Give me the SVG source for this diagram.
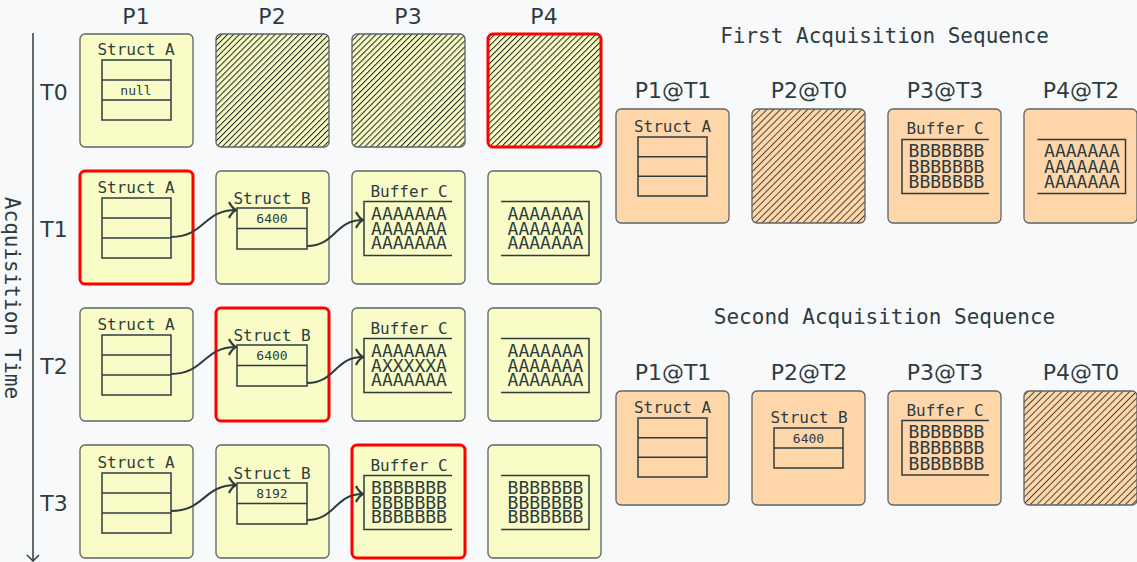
<svg xmlns="http://www.w3.org/2000/svg" width="1137" height="562" viewBox="0 0 1137 562">
<style>
.bg{fill:#f8f9fa}
.y{fill:#f9fcc6;stroke:#5b6466;stroke-width:1.3}
.o{fill:#ffd6aa;stroke:#5b6466;stroke-width:1.3}
.hy{fill:url(#hatchY);stroke:#5b6466;stroke-width:1.3}
.ho{fill:url(#hatchO);stroke:#5b6466;stroke-width:1.3}
.red{stroke:#ff0000;stroke-width:3}
.tb{fill:none;stroke:#2e3c40;stroke-width:1.5}
.hd{font-family:"DejaVu Sans",sans-serif;font-size:22px;fill:#2e3c40;text-anchor:middle}
.ttl{font-family:"DejaVu Sans Mono",monospace;font-size:21px;fill:#2e3c40;text-anchor:middle}
.nm{font-family:"DejaVu Sans Mono",monospace;font-size:16px;fill:#2e3c40;text-anchor:middle}
.sm{font-family:"DejaVu Sans Mono",monospace;font-size:13px;fill:#2e3c40;text-anchor:middle}
.bf{font-family:"DejaVu Sans Mono",monospace;font-size:18px;fill:#2e3c40;text-anchor:middle}
.cn{fill:none;stroke:#2e3c40;stroke-width:2}
</style>
<defs>
<pattern id="hatchY" patternUnits="userSpaceOnUse" width="4.2" height="4.2" patternTransform="rotate(45)">
<rect width="4.2" height="4.2" fill="#f9fcc6"/>
<line x1="0" y1="0" x2="0" y2="4.2" stroke="#1e261e" stroke-width="2"/>
</pattern>
<pattern id="hatchO" patternUnits="userSpaceOnUse" width="4.8" height="4.8" patternTransform="rotate(45)">
<rect width="4.8" height="4.8" fill="#ffd6aa"/>
<line x1="0" y1="0" x2="0" y2="4.8" stroke="#1e2620" stroke-width="1.6"/>
</pattern>
<marker id="arr" viewBox="0 0 9 18" refX="8" refY="9" markerWidth="9" markerHeight="18" markerUnits="userSpaceOnUse" orient="auto">
<path d="M1,1 Q4,7 8,9 Q4,11 1,17" fill="none" stroke="#2e3c40" stroke-width="2.2"/>
</marker>
</defs>
<rect class="bg" x="0" y="0" width="1137" height="562"/>

<g id="axis">
<line x1="33" y1="33" x2="33" y2="561" stroke="#2e3c40" stroke-width="1.5"/>
<path d="M27,555 L33,561 L39,555" fill="none" stroke="#2e3c40" stroke-width="1.5"/>
<text class="ttl" transform="translate(5,298) rotate(90)">Acquisition Time</text>
</g>

<g id="headers">
<text class="hd" x="136" y="24">P1</text>
<text class="hd" x="272" y="24">P2</text>
<text class="hd" x="408" y="24">P3</text>
<text class="hd" x="544" y="24">P4</text>
<text class="hd" x="54" y="100">T0</text>
<text class="hd" x="54" y="237">T1</text>
<text class="hd" x="54" y="374">T2</text>
<text class="hd" x="54" y="511">T3</text>
</g>

<!-- Row T0 -->
<g id="t0p1">
<rect class="y" x="80" y="34" width="113" height="113" rx="5"/>
<text class="nm" x="136" y="55">Struct A</text>
<rect class="tb" x="102" y="60" width="69" height="60"/>
<line class="tb" x1="102" y1="80" x2="171" y2="80"/>
<line class="tb" x1="102" y1="100" x2="171" y2="100"/>
<text class="sm" x="136" y="95">null</text>
</g>
<g id="t0p2"><rect class="hy" x="216" y="34" width="113" height="113" rx="5"/></g>
<g id="t0p3"><rect class="hy" x="352" y="34" width="113" height="113" rx="5"/></g>
<g id="t0p4"><rect class="hy red" x="488" y="34" width="113" height="113" rx="5"/></g>

<!-- Row T1 -->
<g id="t1p1">
<rect class="y red" x="80" y="171" width="113" height="113" rx="5"/>
<text class="nm" x="136" y="193">Struct A</text>
<rect class="tb" x="102" y="198" width="69" height="60"/>
<line class="tb" x1="102" y1="218" x2="171" y2="218"/>
<line class="tb" x1="102" y1="238" x2="171" y2="238"/>
</g>
<g id="t1p2">
<rect class="y" x="216" y="171" width="113" height="113" rx="5"/>
<text class="nm" x="272" y="204">Struct B</text>
<rect class="tb" x="237" y="208" width="70" height="41"/>
<line class="tb" x1="237" y1="228.5" x2="307" y2="228.5"/>
<text class="sm" x="272" y="223">6400</text>
</g>
<g id="t1p3">
<rect class="y" x="352" y="171" width="113" height="113" rx="5"/>
<text class="nm" x="409" y="196.5">Buffer C</text>
<path class="tb" d="M452,201.5 H364 V255.5 H452"/>
<text class="bf" x="409" y="220">AAAAAAA</text>
<text class="bf" x="409" y="234.6">AAAAAAA</text>
<text class="bf" x="409" y="249.2">AAAAAAA</text>
</g>
<g id="t1p4">
<rect class="y" x="488" y="171" width="113" height="113" rx="5"/>
<path class="tb" d="M501,201.5 H589 V255.5 H501"/>
<text class="bf" x="545.5" y="220">AAAAAAA</text>
<text class="bf" x="545.5" y="234.6">AAAAAAA</text>
<text class="bf" x="545.5" y="249.2">AAAAAAA</text>
</g>

<!-- Row T2 -->
<g id="t2p1">
<rect class="y" x="80" y="308" width="113" height="113" rx="5"/>
<text class="nm" x="136" y="330">Struct A</text>
<rect class="tb" x="102" y="335" width="69" height="60"/>
<line class="tb" x1="102" y1="355" x2="171" y2="355"/>
<line class="tb" x1="102" y1="375" x2="171" y2="375"/>
</g>
<g id="t2p2">
<rect class="y red" x="216" y="308" width="113" height="113" rx="5"/>
<text class="nm" x="272" y="341">Struct B</text>
<rect class="tb" x="237" y="345" width="70" height="41"/>
<line class="tb" x1="237" y1="365.5" x2="307" y2="365.5"/>
<text class="sm" x="272" y="360">6400</text>
</g>
<g id="t2p3">
<rect class="y" x="352" y="308" width="113" height="113" rx="5"/>
<text class="nm" x="409" y="333.5">Buffer C</text>
<path class="tb" d="M452,338.5 H364 V392.5 H452"/>
<text class="bf" x="409" y="357">AAAAAAA</text>
<text class="bf" x="409" y="371.6">AXXXXXA</text>
<text class="bf" x="409" y="386.2">AAAAAAA</text>
</g>
<g id="t2p4">
<rect class="y" x="488" y="308" width="113" height="113" rx="5"/>
<path class="tb" d="M501,338.5 H589 V392.5 H501"/>
<text class="bf" x="545.5" y="357">AAAAAAA</text>
<text class="bf" x="545.5" y="371.6">AAAAAAA</text>
<text class="bf" x="545.5" y="386.2">AAAAAAA</text>
</g>

<!-- Row T3 -->
<g id="t3p1">
<rect class="y" x="80" y="445" width="113" height="113" rx="5"/>
<text class="nm" x="136" y="468">Struct A</text>
<rect class="tb" x="102" y="473" width="69" height="60"/>
<line class="tb" x1="102" y1="493" x2="171" y2="493"/>
<line class="tb" x1="102" y1="513" x2="171" y2="513"/>
</g>
<g id="t3p2">
<rect class="y" x="216" y="445" width="113" height="113" rx="5"/>
<text class="nm" x="272" y="479">Struct B</text>
<rect class="tb" x="237" y="483" width="70" height="41"/>
<line class="tb" x1="237" y1="503.5" x2="307" y2="503.5"/>
<text class="sm" x="272" y="498">8192</text>
</g>
<g id="t3p3">
<rect class="y red" x="352" y="445" width="113" height="113" rx="5"/>
<text class="nm" x="409" y="470.5">Buffer C</text>
<path class="tb" d="M452,475.5 H364 V529.5 H452"/>
<text class="bf" x="409" y="494">BBBBBBB</text>
<text class="bf" x="409" y="508.6">BBBBBBB</text>
<text class="bf" x="409" y="523.2">BBBBBBB</text>
</g>
<g id="t3p4">
<rect class="y" x="488" y="445" width="113" height="113" rx="5"/>
<path class="tb" d="M501,475.5 H589 V529.5 H501"/>
<text class="bf" x="545.5" y="494">BBBBBBB</text>
<text class="bf" x="545.5" y="508.6">BBBBBBB</text>
<text class="bf" x="545.5" y="523.2">BBBBBBB</text>
</g>

<g id="connectors">
<path class="cn" marker-end="url(#arr)" d="M171,237 C205,237 203,210 236,210"/>
<path class="cn" marker-end="url(#arr)" d="M307,246 C336,246 334,220 363,220"/>
<path class="cn" marker-end="url(#arr)" d="M171,374 C205,374 203,347 236,347"/>
<path class="cn" marker-end="url(#arr)" d="M307,383 C336,383 334,357 363,357"/>
<path class="cn" marker-end="url(#arr)" d="M171,511 C205,511 203,485 236,485"/>
<path class="cn" marker-end="url(#arr)" d="M307,520 C336,520 334,494 363,494"/>
</g>

<!-- First sequence -->
<g id="seq1">
<text class="ttl" x="884.5" y="43">First Acquisition Sequence</text>
<text class="hd" x="673" y="98">P1@T1</text>
<text class="hd" x="809" y="98">P2@T0</text>
<text class="hd" x="945" y="98">P3@T3</text>
<text class="hd" x="1081" y="98">P4@T2</text>
</g>
<g id="s1p1">
<rect class="o" x="616" y="109" width="113" height="114" rx="5"/>
<text class="nm" x="672.5" y="132">Struct A</text>
<rect class="tb" x="638" y="137" width="69" height="59"/>
<line class="tb" x1="638" y1="156.7" x2="707" y2="156.7"/>
<line class="tb" x1="638" y1="176.3" x2="707" y2="176.3"/>
</g>
<g id="s1p2"><rect class="ho" x="752" y="109" width="113" height="114" rx="5"/></g>
<g id="s1p3">
<rect class="o" x="888" y="109" width="113" height="114" rx="5"/>
<text class="nm" x="945" y="134">Buffer C</text>
<path class="tb" d="M989,139.5 H902 V193.5 H989"/>
<text class="bf" x="946.5" y="157.3">BBBBBBB</text>
<text class="bf" x="946.5" y="172.8">BBBBBBB</text>
<text class="bf" x="946.5" y="188.3">BBBBBBB</text>
</g>
<g id="s1p4">
<rect class="o" x="1024" y="109" width="113" height="114" rx="5"/>
<path class="tb" d="M1037.5,139.5 H1125.5 V193.5 H1037.5"/>
<text class="bf" x="1082" y="157.3">AAAAAAA</text>
<text class="bf" x="1082" y="172.8">AAAAAAA</text>
<text class="bf" x="1082" y="188.3">AAAAAAA</text>
</g>

<!-- Second sequence -->
<g id="seq2">
<text class="ttl" x="884.5" y="324">Second Acquisition Sequence</text>
<text class="hd" x="673" y="380">P1@T1</text>
<text class="hd" x="809" y="380">P2@T2</text>
<text class="hd" x="945" y="380">P3@T3</text>
<text class="hd" x="1081" y="380">P4@T0</text>
</g>
<g id="s2p1">
<rect class="o" x="616" y="391" width="113" height="114" rx="5"/>
<text class="nm" x="672.5" y="413">Struct A</text>
<rect class="tb" x="638" y="418" width="69" height="59"/>
<line class="tb" x1="638" y1="437.7" x2="707" y2="437.7"/>
<line class="tb" x1="638" y1="457.3" x2="707" y2="457.3"/>
</g>
<g id="s2p2">
<rect class="o" x="752" y="391" width="113" height="114" rx="5"/>
<text class="nm" x="809" y="423">Struct B</text>
<rect class="tb" x="774" y="428" width="69" height="40"/>
<line class="tb" x1="774" y1="448" x2="843" y2="448"/>
<text class="sm" x="808.5" y="442.5">6400</text>
</g>
<g id="s2p3">
<rect class="o" x="888" y="391" width="113" height="114" rx="5"/>
<text class="nm" x="945" y="415.5">Buffer C</text>
<path class="tb" d="M989,420.5 H902 V475 H989"/>
<text class="bf" x="946.5" y="438.3">BBBBBBB</text>
<text class="bf" x="946.5" y="454">BBBBBBB</text>
<text class="bf" x="946.5" y="469.7">BBBBBBB</text>
</g>
<g id="s2p4"><rect class="ho" x="1024" y="391" width="113" height="114" rx="5"/></g>
</svg>
